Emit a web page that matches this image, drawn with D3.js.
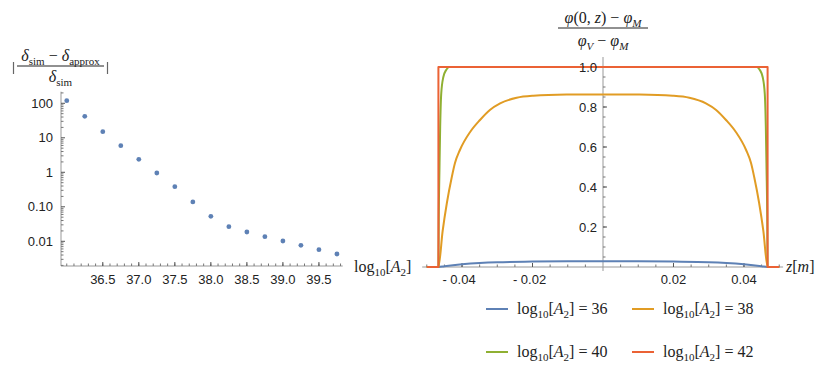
<!DOCTYPE html>
<html>
<head>
<meta charset="utf-8">
<script src="https://cdn.jsdelivr.net/npm/d3@7"></script>
<style>
  body { margin: 0; background: #fff; }
  svg { display: block; }
  .tick-label { font-family: "Liberation Sans", Arial, sans-serif; font-size: 13px; fill: #222; }
  .math { font-family: "Liberation Serif", "DejaVu Serif", serif; font-size: 16px; fill: #222; }
</style>
</head>
<body>
<svg width="830" height="370"></svg>
<script>
// left panel: relative error vs log10[A2]
const logA2 = [36, 36.25, 36.5, 36.75, 37, 37.25, 37.5, 37.75, 38, 38.25, 38.5, 38.75, 39, 39.25, 39.5, 39.75];
const relErr = [119, 42, 15, 5.9, 2.38, 0.955, 0.383, 0.138, 0.053, 0.0265, 0.0186, 0.0136, 0.0102, 0.00766, 0.00571, 0.00429];
const leftXTicks = [36.5, 37, 37.5, 38, 38.5, 39, 39.5];
const leftYTicks = [0.01, 0.1, 1, 10, 100];
const leftYLabels = ["0.01", "0.10", "1", "10", "100"];

// right panel: normalised profile along z, one pair of arrays per curve
const zBlue = [-0.05, -0.0467, -0.045, -0.04, -0.035, -0.03, -0.02, -0.01, 0, 0.01, 0.02, 0.03, 0.035, 0.04, 0.045, 0.0467, 0.05];
const phi36 = [0, 0, 0.004, 0.0135, 0.02, 0.024, 0.027, 0.0285, 0.029, 0.0285, 0.027, 0.024, 0.02, 0.0135, 0.004, 0, 0];
const zOrange = [-0.05, -0.0467, -0.0455, -0.0443, -0.0429, -0.042, -0.0406, -0.0377, -0.0349, -0.0321, -0.0292, -0.0245, -0.0198, -0.0103, 0,
                 0.0103, 0.0198, 0.0245, 0.0292, 0.0321, 0.0349, 0.0377, 0.0406, 0.042, 0.0429, 0.0443, 0.0455, 0.0467, 0.05];
const phi38 = [0, 0, 0.18, 0.32, 0.45, 0.52, 0.585, 0.675, 0.735, 0.785, 0.818, 0.846, 0.856, 0.862, 0.863,
               0.862, 0.856, 0.846, 0.818, 0.785, 0.735, 0.675, 0.585, 0.52, 0.45, 0.32, 0.18, 0, 0];
const zGreen = [-0.05, -0.0467, -0.0466, -0.0464, -0.0462, -0.0459, -0.0453, -0.0445, -0.0436, -0.04, 0,
                0.04, 0.0436, 0.0445, 0.0453, 0.0459, 0.0462, 0.0464, 0.0466, 0.0467, 0.05];
const phi40 = [0, 0, 0.25, 0.49, 0.7, 0.867, 0.95, 0.985, 1, 1, 1,
               1, 1, 0.985, 0.95, 0.867, 0.7, 0.49, 0.25, 0, 0];
const zRed = [-0.05, -0.0467, -0.0467, 0.0467, 0.0467, 0.05];
const phi42 = [0, 0, 1, 1, 0, 0];
const rightXTicks = [-0.04, -0.02, 0.02, 0.04];
const rightYTicks = [0.2, 0.4, 0.6, 0.8, 1.0];
const legendValues = ["36", "38", "40", "42"];
const colors = ["#5E81B5", "#E19C24", "#8FB032", "#EB6235"];

const svg = d3.select("svg");

// writes a little math string: parts = [text, italic?, subscript?]
function mathText(g, x, y, parts, anchor, size) {
  const t = g.append("text").attr("class", "math").attr("x", x).attr("y", y)
    .attr("text-anchor", anchor || "start");
  if (size) t.style("font-size", size + "px");
  let sub = false;
  parts.forEach(([s, it, sb]) => {
    const sp = t.append("tspan").text(s);
    if (it) sp.attr("font-style", "italic");
    if (sb && !sub) sp.attr("dy", 4);
    if (!sb && sub) sp.attr("dy", -4);
    if (sb) sp.style("font-size", "11px");
    sub = !!sb;
  });
  return t;
}
const logLabel = [["log", 0, 0], ["10", 0, 1], ["[", 0, 0], ["A", 1, 0], ["2", 0, 1], ["]", 0, 0]];

// ---------- left panel ----------
const xL = d3.scaleLinear().domain([35.92, 39.83]).range([61, 342.7]);
const yL = d3.scaleLog().domain([Math.pow(10, -2.716), Math.pow(10, 2.336)]).range([266, 91.7]);
const gL = svg.append("g");

gL.append("line").attr("x1", xL.range()[0]).attr("x2", xL.range()[1]).attr("y1", 266).attr("y2", 266)
  .attr("stroke", "#999");
gL.append("line").attr("x1", 61).attr("x2", 61).attr("y1", yL.range()[0]).attr("y2", yL.range()[1])
  .attr("stroke", "#999");

const xMinorL = d3.range(360, 399).map(d => d / 10);
gL.selectAll(".xminor").data(xMinorL).enter().append("line")
  .attr("x1", d => xL(d)).attr("x2", d => xL(d)).attr("y1", 266).attr("y2", 263.5)
  .attr("stroke", "#777");
gL.selectAll(".xmajor").data(leftXTicks).enter().append("line")
  .attr("x1", d => xL(d)).attr("x2", d => xL(d)).attr("y1", 266).attr("y2", 262)
  .attr("stroke", "#555");
gL.selectAll(".xlab").data(leftXTicks).enter().append("text").attr("class", "tick-label")
  .attr("x", d => xL(d)).attr("y", 283.5).attr("text-anchor", "middle").text(d => d.toFixed(1));

const yMinorL = [];
[-3, -2, -1, 0, 1, 2].forEach(k => { for (let m = 2; m <= 9; m++) yMinorL.push(m * Math.pow(10, k)); });
gL.selectAll(".yminor").data(yMinorL.filter(d => d > yL.domain()[0] && d < yL.domain()[1])).enter().append("line")
  .attr("x1", 61).attr("x2", 63.5).attr("y1", d => yL(d)).attr("y2", d => yL(d))
  .attr("stroke", "#777");
gL.selectAll(".ymajor").data(leftYTicks).enter().append("line")
  .attr("x1", 61).attr("x2", 65).attr("y1", d => yL(d)).attr("y2", d => yL(d))
  .attr("stroke", "#555");
gL.selectAll(".ylab").data(leftYTicks).enter().append("text").attr("class", "tick-label")
  .attr("x", 53).attr("y", d => yL(d)).attr("dy", "0.35em").attr("text-anchor", "end")
  .text((d, i) => leftYLabels[i]);

gL.selectAll(".pt").data(logA2).enter().append("circle")
  .attr("cx", d => xL(d)).attr("cy", (d, i) => yL(relErr[i])).attr("r", 2.4)
  .attr("fill", colors[0]);

// title |(δsim − δapprox)/δsim|
mathText(gL, 60.5, 61, [["δ", 1, 0], ["sim", 0, 1], [" − ", 0, 0], ["δ", 1, 0], ["approx", 0, 1]], "middle");
gL.append("line").attr("x1", 17).attr("x2", 104).attr("y1", 66).attr("y2", 66).attr("stroke", "#222");
mathText(gL, 60.5, 82, [["δ", 1, 0], ["sim", 0, 1]], "middle");
[13.5, 107.5].forEach(bx => {
  gL.append("line").attr("x1", bx).attr("x2", bx).attr("y1", 62).attr("y2", 74)
    .attr("stroke", "#666").attr("stroke-width", 1.2);
});
mathText(gL, 354, 272, logLabel, "start");

// ---------- right panel ----------
const xR = d3.scaleLinear().domain([-0.0513, 0.0511]).range([422.2, 783.1]);
const yR = d3.scaleLinear().domain([0, 1]).range([267, 67]);
const gR = svg.append("g");
const x0 = xR(0);

gR.append("line").attr("x1", xR.range()[0]).attr("x2", xR.range()[1]).attr("y1", yR(0)).attr("y2", yR(0))
  .attr("stroke", "#999");
gR.append("line").attr("x1", x0).attr("x2", x0).attr("y1", yR(-0.02)).attr("y2", yR(1.05))
  .attr("stroke", "#999");

const xMinorR = d3.range(-10, 11).map(d => d * 0.005).filter(d => Math.abs(d) > 1e-9);
gR.selectAll(".xminor").data(xMinorR).enter().append("line")
  .attr("x1", d => xR(d)).attr("x2", d => xR(d)).attr("y1", yR(0)).attr("y2", yR(0) - 2.5)
  .attr("stroke", "#777");
gR.selectAll(".xmajor").data(rightXTicks).enter().append("line")
  .attr("x1", d => xR(d)).attr("x2", d => xR(d)).attr("y1", yR(0)).attr("y2", yR(0) - 4)
  .attr("stroke", "#555");
gR.selectAll(".xlab").data(rightXTicks).enter().append("text").attr("class", "tick-label")
  .attr("x", d => xR(d) - (d < 0 ? 3 : 0)).attr("y", 284).attr("text-anchor", "middle")
  .text(d => (d < 0 ? "- " : "") + Math.abs(d).toFixed(2));

const yMinorR = d3.range(1, 21).map(d => d * 0.05);
gR.selectAll(".yminor").data(yMinorR).enter().append("line")
  .attr("x1", x0).attr("x2", x0 + 2.5).attr("y1", d => yR(d)).attr("y2", d => yR(d))
  .attr("stroke", "#777");
gR.selectAll(".ymajor").data(rightYTicks).enter().append("line")
  .attr("x1", x0).attr("x2", x0 + 4).attr("y1", d => yR(d)).attr("y2", d => yR(d))
  .attr("stroke", "#555");

const series = [[zBlue, phi36], [zOrange, phi38], [zGreen, phi40], [zRed, phi42]];
series.forEach(([zs, vs], i) => {
  const line = d3.line().x(d => xR(d)).y((d, j) => yR(vs[j]))
    .curve(i === 3 ? d3.curveLinear : d3.curveMonotoneX);
  gR.append("path").attr("d", line(zs)).attr("fill", "none")
    .attr("stroke", colors[i]).attr("stroke-width", 2).attr("stroke-linejoin", "round");
});

gR.selectAll(".ylab").data(rightYTicks).enter().append("text").attr("class", "tick-label")
  .attr("x", 597).attr("y", d => yR(d)).attr("dy", "0.35em").attr("text-anchor", "end")
  .text(d => d.toFixed(1));

// title (φ(0,z) − φM)/(φV − φM)
mathText(gR, 603, 23, [["φ", 1, 0], ["(0, ", 0, 0], ["z", 1, 0], [") − ", 0, 0], ["φ", 1, 0], ["M", 1, 1]], "middle");
gR.append("line").attr("x1", 558).attr("x2", 648).attr("y1", 28).attr("y2", 28).attr("stroke", "#222");
mathText(gR, 603, 46, [["φ", 1, 0], ["V", 1, 1], [" − ", 0, 0], ["φ", 1, 0], ["M", 1, 1]], "middle");
mathText(gR, 786, 272, [["z", 1, 0], ["[", 0, 0], ["m", 1, 0], ["]", 0, 0]], "start");

// legend
const legPos = [[486, 309], [632, 309], [486, 352], [632, 352]];
legendValues.forEach((v, i) => {
  const [lx, ly] = legPos[i];
  svg.append("line").attr("x1", lx).attr("x2", lx + 22).attr("y1", ly).attr("y2", ly)
    .attr("stroke", colors[i]).attr("stroke-width", 2);
  mathText(svg, lx + 31, ly + 5, logLabel.concat([[" = " + v, 0, 0]]), "start");
});
</script>
</body>
</html>
